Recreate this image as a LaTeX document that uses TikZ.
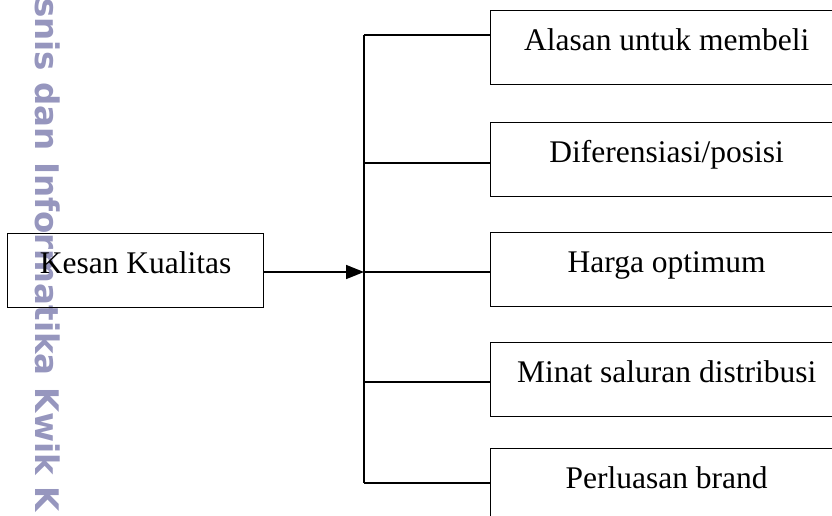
\documentclass[tikz,border=0pt]{standalone}
\usepackage{fontspec}
\setmainfont{Liberation Serif}
\newfontfamily\wmfont{DejaVu Sans}
\usetikzlibrary{arrows.meta}
\definecolor{wmcol}{RGB}{150,150,190}
\begin{document}
\begin{tikzpicture}[x=1pt,y=-1pt,
  box/.style={draw,line width=1.3pt,inner sep=0pt,anchor=north west,
    text height=40pt,text depth=34pt,font=\fontsize{31.5}{36}\selectfont},
  rbox/.style={box,minimum width=352pt},
  wire/.style={line width=1.6pt},
  wmark/.style={rotate=-90,anchor=base west,inner sep=0pt,text=wmcol,
    font=\wmfont\bfseries\fontsize{32.5}{40}\selectfont}]
\useasboundingbox (0,0) rectangle (832,515);
\clip (0,0) rectangle (832,515);
\node[wmark] (wm) at (35,-2) {snis dan Informatika Kwik K};
\node[box,minimum width=256pt] (kq) at (7,233) {Kesan Kualitas};
\node[rbox] (r1) at (490,10) {Alasan untuk membeli};
\node[rbox] (r2) at (490,122) {Diferensiasi/posisi};
\node[rbox] (r3) at (490,232) {Harga optimum};
\node[rbox] (r4) at (490,342) {Minat saluran distribusi};
\node[rbox] (r5) at (490,448) {Perluasan brand};
\coordinate (b1) at (364,35);
\coordinate (b2) at (364,163);
\coordinate (b3) at (364,272);
\coordinate (b4) at (364,382);
\coordinate (b5) at (364,483);
\draw[wire] (b1) -- (b5);
\draw[wire] (b1) -- (b1 -| r1.west);
\draw[wire] (b2) -- (b2 -| r2.west);
\draw[wire] (b3) -- (b3 -| r3.west);
\draw[wire] (b4) -- (b4 -| r4.west);
\draw[wire] (b5) -- (b5 -| r5.west);
\draw[wire,-{Triangle[length=18pt,width=14pt]}] (kq.east |- b3) -- (b3);
\end{tikzpicture}
\end{document}
